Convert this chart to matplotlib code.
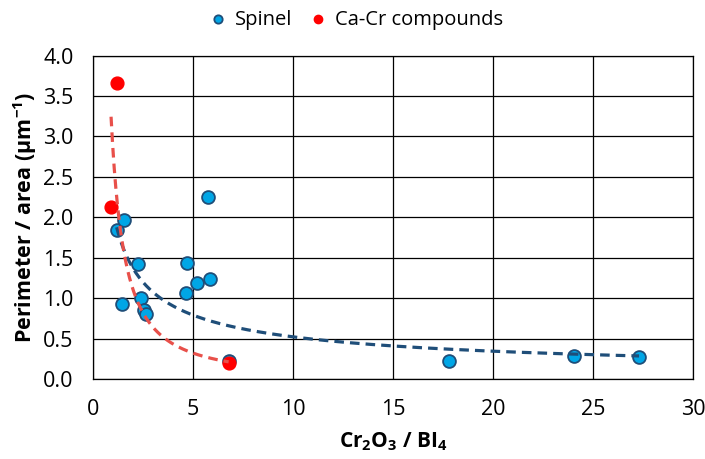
import numpy as np
import matplotlib
matplotlib.use("Agg")
import matplotlib.pyplot as plt

plt.rcParams['font.family'] = ['Open Sans', 'DejaVu Sans']
plt.rcParams['mathtext.fontset'] = 'custom'
plt.rcParams['mathtext.rm'] = 'Open Sans'
plt.rcParams['mathtext.bf'] = 'Open Sans:bold'

# Data
spinel_x = [1.18, 1.53, 1.43, 2.23, 2.42, 2.57, 2.63, 4.65, 4.70, 5.18, 5.85, 5.75, 6.78, 17.8, 24.05, 27.3]
spinel_y = [1.84, 1.97, 0.93, 1.42, 1.00, 0.85, 0.81, 1.07, 1.44, 1.19, 1.24, 2.25, 0.23, 0.22, 0.28, 0.27]
cacr_x = [1.18, 0.90, 6.78]
cacr_y = [3.66, 2.13, 0.20]

x_ticks = [0, 5, 10, 15, 20, 25, 30]
y_ticks = [0.0, 0.5, 1.0, 1.5, 2.0, 2.5, 3.0, 3.5, 4.0]

fig = plt.figure(figsize=(7.05, 4.59), dpi=100)
ax = fig.add_axes([0.132, 0.174, 0.851, 0.705])

blue_fill = '#00A6E6'
blue_edge = '#1F4E79'
red = '#FF0000'

ax.scatter(spinel_x, spinel_y, s=85, c=blue_fill, edgecolors=blue_edge, linewidths=1.3, zorder=3, label='Spinel')
ax.scatter(cacr_x, cacr_y, s=85, c=red, edgecolors=red, linewidths=1.0, zorder=4, label='Ca-Cr compounds')

def power_fit(x, y):
    b, lna = np.polyfit(np.log(x), np.log(y), 1)
    return np.exp(lna), b

a1, b1 = power_fit(spinel_x, spinel_y)
xs = np.linspace(min(spinel_x), max(spinel_x), 300)
ax.plot(xs, a1 * xs ** b1, ls=(0, (3.0, 1.9)), color='#1F4E79', lw=2.3, zorder=5)

a2, b2 = power_fit(cacr_x, cacr_y)
xr = np.linspace(min(cacr_x), max(cacr_x), 300)
ax.plot(xr, a2 * xr ** b2, ls=(0, (3.0, 1.9)), color='#E8504A', lw=2.3, zorder=5)

ax.set_xlim(0, 30)
ax.set_ylim(0, 4.0)
ax.set_xticks(x_ticks)
ax.set_yticks(y_ticks)
ax.set_xticklabels([str(t) for t in x_ticks])
ax.set_yticklabels([f'{t:.1f}' for t in y_ticks])
ax.tick_params(length=0, labelsize=15.5, colors='#000000')
ax.tick_params(axis='x', pad=14)
ax.tick_params(axis='y', pad=14)
ax.grid(True, color='#000000', lw=0.9)
ax.set_axisbelow(True)
for s in ax.spines.values():
    s.set_color('#000000')
    s.set_linewidth(0.9)

ax.set_xlabel(r'Cr$_\mathbf{2}$O$_\mathbf{3}$ / BI$_\mathbf{4}$', fontsize=15, fontweight='bold', labelpad=8)
ax.set_ylabel(r'Perimeter / area ($\mathbf{\mu}$m$^\mathbf{-1}$)', fontsize=15.5, fontweight='bold', labelpad=3)

leg = ax.legend(loc='lower center', bbox_to_anchor=(0.4375, 1.055), ncol=2, frameon=False,
                fontsize=14.5, handletextpad=0.35, handlelength=1.0, columnspacing=0.8,
                markerscale=0.65, borderaxespad=0)

fig.savefig('out.png', dpi=100)
